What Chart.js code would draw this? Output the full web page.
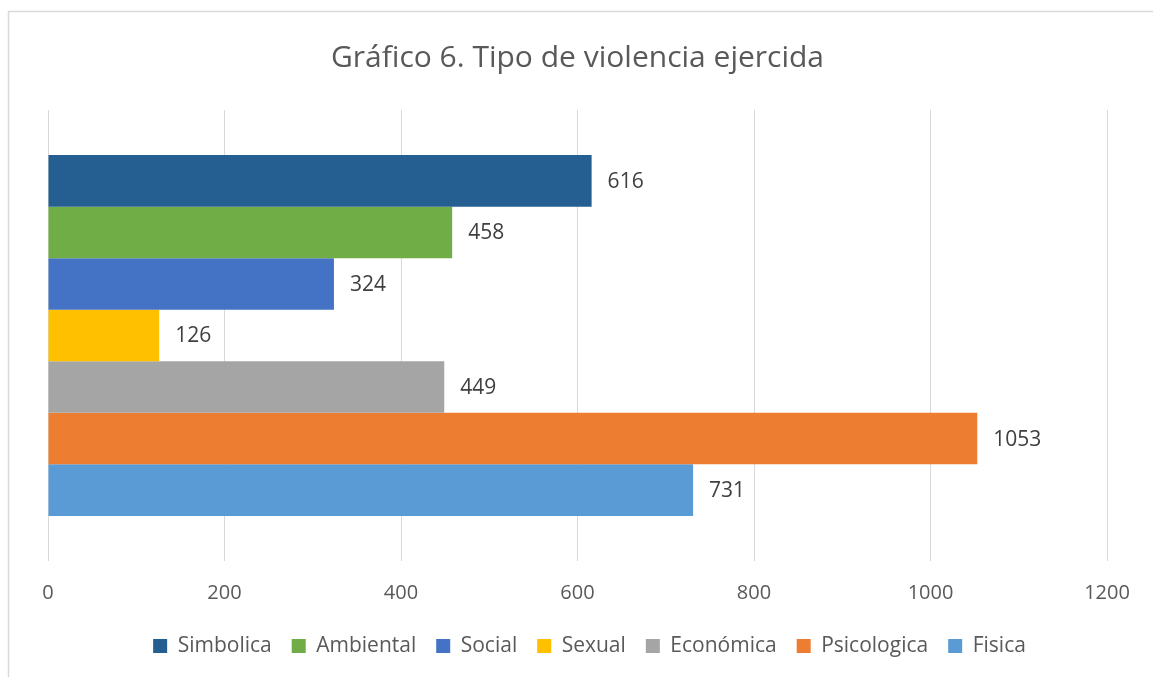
<!DOCTYPE html>
<html>
<head>
<meta charset="utf-8">
<script src="https://cdn.jsdelivr.net/npm/chart.js@4/dist/chart.umd.min.js"></script>
<style>
  html, body { margin: 0; padding: 0; background: #fff; }
  #wrap { width: 1153px; height: 677px; position: relative; }
</style>
</head>
<body>
<div id="wrap"><canvas id="grafico"></canvas></div>
<script>
// datos del gráfico
const categorias = [''];
const tipos = ['Simbolica', 'Ambiental', 'Social', 'Sexual', 'Económica', 'Psicologica', 'Fisica'];
const valores = [616, 458, 324, 126, 449, 1053, 731];
const colores = ['#255E91', '#70AD47', '#4472C4', '#FFC000', '#A5A5A5', '#ED7D31', '#5B9BD5'];
const ticksX = [0, 200, 400, 600, 800, 1000, 1200];

const fuente = "'Open Sans', sans-serif";

// marco gris del gráfico
const marco = {
  id: 'marco',
  beforeDraw(chart) {
    const ctx = chart.ctx;
    ctx.save();
    ctx.fillStyle = '#fff';
    ctx.fillRect(0, 0, chart.width, chart.height);
    ctx.strokeStyle = '#d9d9d9';
    ctx.lineWidth = 1.5;
    ctx.strokeRect(8.5, 11.5, 2000, 2000);
    ctx.restore();
  },
  afterLayout(chart) {
    // la leyenda original está algo desplazada a la derecha
    chart.legend.left += 12;
    chart.legend.right += 12;
  }
};

// etiquetas con el valor al final de cada barra
const etiquetas = {
  id: 'etiquetas',
  afterDatasetsDraw(chart) {
    const ctx = chart.ctx;
    ctx.save();
    ctx.font = `21px ${fuente}`;
    ctx.fillStyle = '#404040';
    ctx.textAlign = 'left';
    ctx.textBaseline = 'middle';
    chart.data.datasets.forEach((ds, i) => {
      const barra = chart.getDatasetMeta(i).data[0];
      ctx.fillText(ds.data[0], barra.x + 16, barra.y + 1);
    });
    ctx.restore();
  }
};

const datasets = tipos.map((t, i) => ({
  label: t,
  data: [valores[i]],
  backgroundColor: colores[i],
  borderWidth: 0,
  categoryPercentage: 0.8,
  barPercentage: 1
}));

new Chart(document.getElementById('grafico'), {
  type: 'bar',
  data: { labels: categorias, datasets: datasets },
  options: {
    indexAxis: 'y',
    responsive: true,
    maintainAspectRatio: false,
    animation: false,
    layout: { padding: { left: 48, right: 46, top: 10, bottom: 10.5 } },
    scales: {
      x: {
        min: 0,
        max: 1200,
        afterBuildTicks: (axis) => { axis.ticks = ticksX.map(v => ({ value: v })); },
        afterFit: (axis) => { axis.height = 54.5; },
        grid: { color: '#d9d9d9', lineWidth: 1, drawTicks: false },
        border: { display: false },
        ticks: {
          color: '#595959',
          font: { family: fuente, size: 20 },
          padding: 20,
          maxRotation: 0,
          callback: (v) => String(v)
        }
      },
      y: { display: false }
    },
    plugins: {
      title: {
        display: true,
        text: 'Gráfico 6. Tipo de violencia ejercida',
        color: '#595959',
        font: { family: fuente, size: 30, weight: 'normal' },
        padding: { top: 30, bottom: 34 }
      },
      legend: {
        position: 'bottom',
        labels: {
          color: '#595959',
          font: { family: fuente, size: 21 },
          boxWidth: 14,
          boxHeight: 14,
          padding: 20
        }
      },
      tooltip: { enabled: false }
    }
  },
  plugins: [marco, etiquetas]
});
</script>
</body>
</html>
